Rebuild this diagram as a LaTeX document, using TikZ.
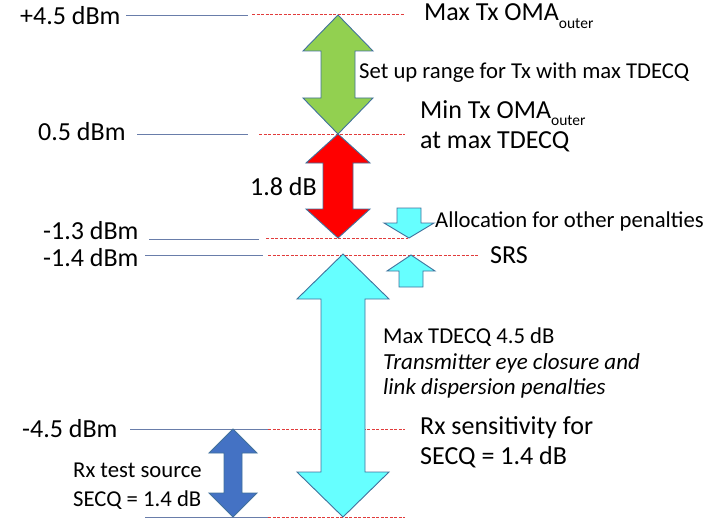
\documentclass[tikz,border=0pt]{standalone}
\usepackage{fontspec}
\setmainfont{Carlito}
\definecolor{outl}{RGB}{65,113,156}
\definecolor{greenA}{RGB}{146,208,80}
\definecolor{redA}{RGB}{255,0,0}
\definecolor{cyanA}{RGB}{102,255,255}
\definecolor{blueA}{RGB}{68,114,196}
\definecolor{levline}{RGB}{105,125,170}
\definecolor{refline}{RGB}{225,60,60}
\newcommand\dblarrow[7]{% color, cx, top, bottom, head half width, shaft half width, head height
  \filldraw[arrowshape, fill=#1] (#2,#3) -- ({#2+#5},{#3+#7}) -- ({#2+#6},{#3+#7}) -- ({#2+#6},{#4-#7}) -- ({#2+#5},{#4-#7}) -- (#2,#4) -- ({#2-#5},{#4-#7}) -- ({#2-#6},{#4-#7}) -- ({#2-#6},{#3+#7}) -- ({#2-#5},{#3+#7}) -- cycle;}
\newcommand\dnarrow[7]{% color, cx, top, tip, head hw, shaft hw, head height
  \filldraw[arrowshape, fill=#1] ({#2-#6},#3) -- ({#2+#6},#3) -- ({#2+#6},{#4-#7}) -- ({#2+#5},{#4-#7}) -- (#2,#4) -- ({#2-#5},{#4-#7}) -- ({#2-#6},{#4-#7}) -- cycle;}
\newcommand\uparrowshape[7]{% color, cx, tip, bottom, head hw, shaft hw, head height
  \filldraw[arrowshape, fill=#1] (#2,#3) -- ({#2+#5},{#3+#7}) -- ({#2+#6},{#3+#7}) -- ({#2+#6},#4) -- ({#2-#6},#4) -- ({#2-#6},{#3+#7}) -- ({#2-#5},{#3+#7}) -- cycle;}
\newcommand\subouter{\raisebox{-0.28em}{\fontsize{15.5}{15.5}\selectfont outer}}
\begin{document}
\begin{tikzpicture}[x=1pt,y=-1pt,
  arrowshape/.style={draw=outl, line width=0.9pt, line join=miter},
  level/.style={draw=levline, line width=0.9pt},
  ref/.style={draw=refline, line width=0.85pt, dash pattern=on 3pt off 1.5pt},
  lbl/.style={anchor=base west, inner sep=0pt, font=\fontsize{26}{30}\selectfont},
  txt/.style={anchor=base west, inner sep=0pt, font=\fontsize{22.7}{27}\selectfont},
  txtit/.style={txt, font=\fontsize{23}{27}\selectfont\itshape}]
\useasboundingbox (0,0) rectangle (721,519);
% level lines
\draw[level] (126,15) -- (248,15);
\draw[ref] (252,14) -- (405,14);
\draw[level] (137,134) -- (248,134);
\draw[ref] (259,134) -- (405,134);
\draw[level] (149,239) -- (259,239);
\draw[ref] (266,238) -- (408,238);
\draw[level] (145,255) -- (263,255);
\draw[ref] (268,255) -- (479,255);
\draw[level] (130,429) -- (268,429);
\draw[ref] (268,429) -- (405,429);
\draw[level] (145,517) -- (268,517);
\draw[ref] (268,517) -- (405,517);
% arrows
\dblarrow{greenA}{338}{15}{134}{35}{17}{36}
\dblarrow{redA}{338}{134}{238}{32}{15}{29}
\dblarrow{cyanA}{343}{254}{517}{46}{22}{45}
\dblarrow{blueA}{233}{429}{517}{24}{9}{24}
\dnarrow{cyanA}{409}{208}{238}{25}{12}{15}
\uparrowshape{cyanA}{411}{255}{287}{24}{12}{16}
% level labels
\node[lbl] (l45) at (20,25) {+4.5 dBm};
\node[lbl] (l05) at (38,140) {0.5 dBm};
\node[lbl] (lm13) at (43,239) {-1.3 dBm};
\node[lbl] (lm14) at (43,266) {-1.4 dBm};
\node[lbl] (lm45) at (22,437) {-4.5 dBm};
% texts
\node[lbl] (maxoma) at (424,21) {Max Tx OMA\subouter};
\node[txt, fill=white, inner sep=1pt] (setup) at (358,78) {Set up range for Tx with max TDECQ};
\node[lbl] (minoma) at (420,118) {Min Tx OMA\subouter};
\node[lbl] (atmax) at (420,148) {at max TDECQ};
\node[lbl] (db18) at (250,195) {1.8 dB};
\node[txt] (alloc) at (435,227) {Allocation for other penalties};
\node[lbl] (srs) at (490,263) {SRS};
\node[txt] (tdecq) at (383,343) {Max TDECQ 4.5 dB};
\node[txtit] (tec) at (383,369) {Transmitter eye closure and};
\node[txtit] (ldp) at (383,394) {link dispersion penalties};
\node[lbl] (rxs) at (420,434) {Rx sensitivity for};
\node[lbl] (secq1) at (420,464) {SECQ = 1.4 dB};
\node[txt] (rxt) at (73,477) {Rx test source};
\node[txt] (secq2) at (73,506) {SECQ = 1.4 dB};
\end{tikzpicture}
\end{document}
